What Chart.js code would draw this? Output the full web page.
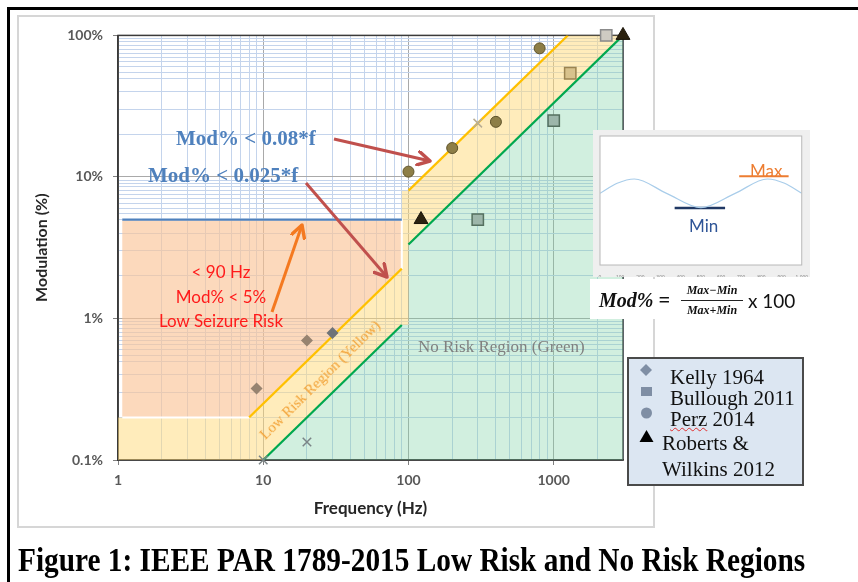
<!DOCTYPE html>
<html>
<head>
<meta charset="utf-8">
<script src="https://cdn.jsdelivr.net/npm/chart.js@4.4.1/dist/chart.umd.min.js"></script>
<style>
  html, body { margin: 0; padding: 0; background: #fff; }
  #page { position: relative; width: 858px; height: 582px; overflow: hidden; background: #fff; }
  .abs { position: absolute; white-space: nowrap; line-height: 1; }
  .serif { font-family: "Liberation Serif", "Times New Roman", serif; }
  .sans { font-family: Lato, "Open Sans", sans-serif; }
  canvas { position: absolute; }
</style>
</head>
<body>
<div id="page">
  <!-- cadre noir de la page -->
  <div class="abs" style="left:7px;top:7px;width:860px;height:3px;background:#000"></div>
  <div class="abs" style="left:7px;top:7px;width:3px;height:580px;background:#000"></div>
  <!-- carte grise du graphique -->
  <div class="abs" style="left:17px;top:15px;width:634px;height:509px;border:2px solid #d6d6d6"></div>
  <canvas id="mainChart" width="634" height="509" style="left:19px;top:17px"></canvas>

  <!-- annotations -->
  <div class="abs serif" style="left:176px;top:128px;font-size:21px;font-weight:bold;color:#4f81bd">Mod% &lt; 0.08*f</div>
  <div class="abs serif" style="left:148px;top:165px;font-size:21px;font-weight:bold;color:#4f81bd">Mod% &lt; 0.025*f</div>
  <div class="abs sans" style="left:150px;top:260px;width:142px;text-align:center;font-size:17px;line-height:24.5px;color:#ff1a1a">&lt; 90 Hz<br>Mod% &lt; 5%<br>Low Seizure Risk</div>
  <div class="abs serif" style="left:320px;top:380px;font-size:15px;color:#f2a033;transform:translate(-50%,-50%) rotate(-44.6deg)">Low Risk Region (Yellow)</div>
  <div class="abs serif" style="left:418px;top:338px;font-size:17px;color:#808080">No Risk Region (Green)</div>

  <svg class="abs" width="858" height="582" style="left:0;top:0">
    <defs>
      <marker id="headRed" markerUnits="userSpaceOnUse" markerWidth="16" markerHeight="16" viewBox="0 0 12 12" refX="10" refY="6" orient="auto">
        <path d="M1,1 L10,6 L1,11" fill="none" stroke="#c0504d" stroke-width="2.6" stroke-linecap="round" stroke-linejoin="round"/>
      </marker>
      <marker id="headOrange" markerUnits="userSpaceOnUse" markerWidth="16" markerHeight="16" viewBox="0 0 12 12" refX="10" refY="6" orient="auto">
        <path d="M1,1 L10,6 L1,11" fill="none" stroke="#f47920" stroke-width="2.6" stroke-linecap="round" stroke-linejoin="round"/>
      </marker>
    </defs>
    <line x1="334" y1="139" x2="430" y2="161" stroke="#c0504d" stroke-width="3" marker-end="url(#headRed)"/>
    <line x1="306" y1="183" x2="387" y2="277" stroke="#c0504d" stroke-width="3" marker-end="url(#headRed)"/>
    <line x1="272" y1="312" x2="302" y2="225" stroke="#f47920" stroke-width="3" marker-end="url(#headOrange)"/>
  </svg>

  <!-- encart : forme d'onde -->
  <div class="abs" style="left:593px;top:130px;width:217px;height:147px;background:#efefef"></div>
  <canvas id="waveChart" width="217" height="147" style="left:593px;top:130px"></canvas>
  <div class="abs sans" style="left:750px;top:162px;font-size:17px;color:#ed7d31">Max</div>
  <div class="abs sans" style="left:689px;top:217px;font-size:17px;color:#2f5597">Min</div>

  <!-- formule -->
  <div class="abs" style="left:590px;top:279px;width:222px;height:40px;background:#fff"></div>
  <div class="abs serif" style="left:599px;top:290px;font-size:20px;font-weight:bold;font-style:italic;color:#111">Mod% =</div>
  <div class="abs serif" style="left:681px;top:284px;width:62px;text-align:center;font-size:12px;font-weight:bold;font-style:italic;color:#111">Max&minus;Min</div>
  <div class="abs" style="left:681px;top:300px;width:62px;height:1px;background:#222"></div>
  <div class="abs serif" style="left:681px;top:304px;width:62px;text-align:center;font-size:12px;font-weight:bold;font-style:italic;color:#111">Max+Min</div>
  <div class="abs sans" style="left:748px;top:291px;font-size:19px;color:#111">x 100</div>

  <!-- légende -->
  <div class="abs" style="left:627px;top:357px;width:173px;height:125px;background:#dce6f2;border:2px solid #4a4a4a"></div>
  <svg class="abs" width="30" height="90" style="left:631px;top:360px">
    <path d="M15,4 L21,10 L15,16 L9,10 Z" fill="#7f8ea4"/>
    <rect x="10" y="27" width="11" height="9" fill="#7f8ea4"/>
    <circle cx="15.5" cy="53" r="5.5" fill="#7f8ea4"/>
    <path d="M15.5,70 L22.5,82 L8.5,82 Z" fill="#000"/>
  </svg>
  <div class="abs serif" style="left:670px;top:367px;font-size:21px;color:#111">Kelly 1964</div>
  <div class="abs serif" style="left:670px;top:388px;font-size:21px;color:#111">Bullough 2011</div>
  <div class="abs serif" style="left:670px;top:409px;font-size:21px;color:#111"><span style="text-decoration:underline wavy #e03030;text-decoration-thickness:1px">Perz</span> 2014</div>
  <div class="abs serif" style="left:662px;top:433px;font-size:21px;color:#111">Roberts &amp;</div>
  <div class="abs serif" style="left:662px;top:459px;font-size:21px;color:#111">Wilkins 2012</div>

  <div id="caption" class="abs serif" style="left:18px;top:544px;font-size:33px;font-weight:bold;color:#000;transform-origin:0 0">Figure 1: IEEE PAR 1789-2015 Low Risk and No Risk Regions</div>
</div>

<script>
// zones de risque (fréquence Hz, modulation %)
const seizureZone = [[1.07, 0.2], [8, 0.2], [90, 2.25], [90, 5], [1.07, 5]];
const lowRiskZoneLow = [[1, 0.1], [1, 0.2], [8, 0.2], [90, 2.25], [90, 0.9], [10, 0.1]];
const lowRiskZoneHigh = [[90, 8], [100, 8], [1250, 100], [3000, 100], [100, 3.33], [100, 0.9], [90, 0.9]];
const noRiskZone = [[10, 0.1], [90, 0.9], [100, 0.9], [100, 3.33], [3000, 100], [3000, 0.1]];

// limites
const seizureLimit = [[1.07, 5], [90, 5]];
const lowRiskLimitLow = [[8, 0.2], [90, 2.25]];
const lowRiskLimitHigh = [[100, 8], [1250, 100]];
const noRiskLimitLow = [[10, 0.1], [90, 0.9]];
const noRiskLimitHigh = [[100, 3.33], [3000, 100]];

// mesures publiées
const kellyFreq = [9, 20, 30];
const kellyMod = [0.32, 0.7, 0.79];
const crossFreq = [10, 20, 300];
const crossMod = [0.1, 0.134, 24];
const bulloughFreq = [300, 1000, 1300, 2300];
const bulloughMod = [5, 25, 54, 100];
const perzFreq = [100, 200, 400, 800];
const perzMod = [10.9, 16, 24.5, 81];
const robertsFreq = [122, 3000];
const robertsMod = [5, 100];

// axes
const xGridLines = [1, 2, 3, 4, 5, 6, 7, 8, 9, 10, 20, 30, 40, 50, 60, 70, 80, 90,
  100, 200, 300, 400, 500, 600, 700, 800, 900, 1000, 2000, 3000];
const yGridLines = [0.1, 0.2, 0.3, 0.4, 0.5, 0.55, 0.6, 0.65, 0.7, 0.75, 0.8, 0.85, 0.9, 0.95,
  1, 2, 3, 4, 5, 5.5, 6, 6.5, 7, 7.5, 8, 8.5, 9, 9.5,
  10, 20, 30, 40, 50, 55, 60, 65, 70, 75, 80, 85, 90, 95, 100];
const xTickValues = [1, 10, 100, 1000];
const xTickText = ['1', '10', '100', '1000'];
const yTickValues = [0.1, 1, 10, 100];
const yTickText = ['0.1%', '1%', '10%', '100%'];

const waveX = [0, 85, 170, 330, 500, 670, 830, 915, 1000];
const waveY = [5, 5.7, 6, 5, 4, 5, 6, 5.7, 5];
const maxMark = [[690, 6.2], [935, 6.2]];
const minMark = [[370, 3.98], [620, 3.98]];

const pts = arr => arr.map(p => ({x: p[0], y: p[1]}));
const zip = (xs, ys) => xs.map((x, i) => ({x: x, y: ys[i]}));

function zone(data, color, border) {
  return {data: pts(data), showLine: true, fill: 'shape', backgroundColor: color,
    borderColor: border || 'rgba(0,0,0,0)', borderWidth: 2, pointRadius: 0, tension: 0, order: 3};
}
function limit(data, color) {
  return {data: pts(data), showLine: true, fill: false, borderColor: color, borderWidth: 2.2,
    pointRadius: 0, tension: 0, order: 2};
}

// cadre autour de la zone de tracé
const framePlugin = {
  id: 'frame',
  beforeDatasetsDraw(chart) {
    const a = chart.chartArea, c = chart.ctx;
    c.save();
    c.strokeStyle = '#3a3a3a';
    c.lineWidth = 1.5;
    c.strokeRect(a.left, a.top, a.right - a.left, a.bottom - a.top);
    c.restore();
  }
};

new Chart(document.getElementById('mainChart'), {
  type: 'scatter',
  data: {
    datasets: [
      {data: zip(kellyFreq, kellyMod), pointStyle: 'rectRot', pointRadius: 6,
        backgroundColor: ['#978370', '#978370', '#6f7378'], borderWidth: 0, clip: false, order: 0},
      {data: zip(crossFreq, crossMod), pointStyle: 'crossRot', pointRadius: 6,
        borderColor: ['#7a8486', '#7a8486', '#b9ae95'], borderWidth: 1.5, clip: false, order: 0},
      {data: zip(bulloughFreq, bulloughMod), pointStyle: 'rect', pointRadius: 8,
        backgroundColor: ['#9db6aa', '#9db6aa', '#d8c28c', '#cfcbc2'],
        borderColor: ['#55705f', '#55705f', '#9b8450', '#8b8b8b'], borderWidth: 1.5, clip: false, order: 0},
      {data: zip(perzFreq, perzMod), pointStyle: 'circle', pointRadius: 5.5,
        backgroundColor: '#8d7e47', borderColor: '#5e5228', borderWidth: 1, clip: false, order: 0},
      {data: zip(robertsFreq, robertsMod), pointStyle: 'triangle', pointRadius: 8,
        backgroundColor: '#2c220f', borderColor: '#1a1408', borderWidth: 1, clip: false, order: 0},
      limit(seizureLimit, '#4f81bd'),
      limit(lowRiskLimitLow, '#ffc000'),
      limit(lowRiskLimitHigh, '#ffc000'),
      limit(noRiskLimitLow, '#00a84f'),
      limit(noRiskLimitHigh, '#00a84f'),
      zone(seizureZone, 'rgba(250, 196, 150, 0.64)', '#ffffff'),
      zone(lowRiskZoneLow, 'rgba(255, 218, 120, 0.5)'),
      zone(lowRiskZoneHigh, 'rgba(255, 218, 120, 0.5)'),
      zone(noRiskZone, 'rgba(120, 208, 160, 0.34)')
    ]
  },
  options: {
    responsive: false,
    animation: false,
    events: [],
    layout: {padding: {top: 13, right: 30, left: 0, bottom: 0}},
    plugins: {legend: {display: false}, tooltip: {enabled: false}},
    scales: {
      x: {
        type: 'logarithmic', min: 1, max: 3000,
        afterBuildTicks: s => { s.ticks = xGridLines.map(v => ({value: v})); },
        afterFit: s => { s.height = 66; },
        ticks: {autoSkip: false, maxRotation: 0, padding: 7, color: '#595959',
          font: {family: 'Lato', size: 14, weight: 'bold'},
          callback: v => { const i = xTickValues.indexOf(v); return i < 0 ? '' : xTickText[i]; }},
        grid: {
          color: c => xTickValues.includes(c.tick.value) ? '#a9a9a9' : '#c4d4ec',
          tickColor: c => xTickValues.includes(c.tick.value) ? '#7f7f7f' : 'rgba(0,0,0,0)',
          tickLength: 5, lineWidth: 1
        },
        border: {color: '#3a3a3a', width: 1.5},
        title: {display: true, text: 'Frequency (Hz)', color: '#262626',
          font: {family: 'Lato', size: 17, weight: 'bold'}, padding: {top: 0, bottom: 7}}
      },
      y: {
        type: 'logarithmic', min: 0.1, max: 100,
        afterBuildTicks: s => { s.ticks = yGridLines.map(v => ({value: v})); },
        afterFit: s => { s.width = 99; },
        ticks: {autoSkip: false, padding: 10, color: '#595959',
          font: {family: 'Lato', size: 14, weight: 'bold'},
          callback: v => { const i = yTickValues.indexOf(v); return i < 0 ? '' : yTickText[i]; }},
        grid: {
          color: c => yTickValues.includes(c.tick.value) ? '#a9a9a9' : '#c4d4ec',
          tickColor: c => yTickValues.includes(c.tick.value) ? '#7f7f7f' : 'rgba(0,0,0,0)',
          tickLength: 5, lineWidth: 1
        },
        border: {color: '#3a3a3a', width: 1.5},
        title: {display: true, text: 'Modulation (%)', color: '#262626',
          font: {family: 'Lato', size: 16, weight: 'bold'}, padding: {top: 13, bottom: 0}}
      }
    }
  },
  plugins: [framePlugin]
});

// encart
const insetPlugin = {
  id: 'insetFrame',
  beforeDraw(chart) {
    const a = chart.chartArea, c = chart.ctx;
    c.save();
    c.fillStyle = '#ffffff';
    c.fillRect(a.left, a.top, a.right - a.left, a.bottom - a.top);
    c.restore();
  },
  afterDraw(chart) {
    const a = chart.chartArea, c = chart.ctx;
    c.save();
    c.strokeStyle = '#b8b8b8';
    c.lineWidth = 1;
    c.strokeRect(a.left, a.top, a.right - a.left, a.bottom - a.top);
    c.restore();
  }
};

new Chart(document.getElementById('waveChart'), {
  type: 'scatter',
  data: {
    datasets: [
      {data: zip(waveX, waveY), showLine: true, borderColor: '#a9cdea', borderWidth: 1.2,
        pointRadius: 0, cubicInterpolationMode: 'monotone', fill: false},
      {data: pts(maxMark), showLine: true, borderColor: '#ed7d31', borderWidth: 2, pointRadius: 0},
      {data: pts(minMark), showLine: true, borderColor: '#203864', borderWidth: 2.5, pointRadius: 0}
    ]
  },
  options: {
    responsive: false,
    animation: false,
    events: [],
    layout: {padding: {top: 6, right: 6, left: 0, bottom: 0}},
    plugins: {legend: {display: false}, tooltip: {enabled: false}},
    scales: {
      x: {min: 0, max: 1000, afterFit: s => { s.height = 12; },
        ticks: {stepSize: 100, padding: 2, color: '#8a8a8a', font: {size: 5}, maxRotation: 0},
        grid: {display: false}, border: {display: false}},
      y: {min: 0, max: 9, afterFit: s => { s.width = 7; },
        ticks: {stepSize: 1, padding: 2, color: '#8a8a8a', font: {size: 5}},
        grid: {display: false}, border: {display: false}}
    }
  },
  plugins: [insetPlugin]
});

// légende de la figure, compressée à la largeur de l'original
const cap = document.getElementById('caption');
cap.style.transform = 'scaleX(' + (787 / cap.offsetWidth) + ')';
</script>
</body>
</html>
